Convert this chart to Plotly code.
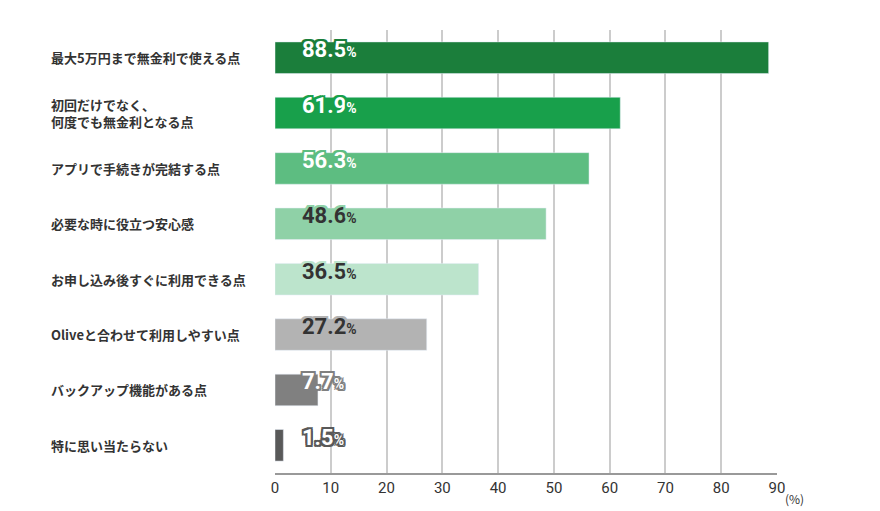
import plotly.graph_objects as go

categories = ["最大5万円まで無金利で使える点", "初回だけでなく、<br>何度でも無金利となる点", "アプリで手続きが完結する点",
              "必要な時に役立つ安心感", "お申し込み後すぐに利用できる点", "Oliveと合わせて利用しやすい点",
              "バックアップ機能がある点", "特に思い当たらない"]
values = [88.5, 61.9, 56.3, 48.6, 36.5, 27.2, 7.7, 1.5]
colors = ["#1b7e3b", "#18a04b", "#5dbd81", "#8fd1a7", "#bce4cc", "#b3b3b3", "#808080", "#595959"]
text_colors = ["white", "white", "white", "#333333", "#333333", "#333333", "white", "white"]
ticks = [0, 10, 20, 30, 40, 50, 60, 70, 80, 90]

fig = go.Figure(go.Bar(x=values, y=categories, orientation="h", marker_color=colors,
                       width=0.57, hoverinfo="skip"))

def outline(c):
    offs = [(-2, 0), (2, 0), (0, -2), (0, 2), (-2, -2), (2, 2), (-2, 2), (2, -2), (-1, 0), (1, 0), (0, 1), (0, -1)]
    return ", ".join(f"{a}px {b}px 0 {c}" for a, b in offs)

for cat, v, col, tc in zip(categories, values, colors, text_colors):
    fig.add_annotation(x=4.5, y=cat, xref="x", yref="y", xanchor="left", yanchor="middle", yshift=8,
                       showarrow=False,
                       text=f"{v:.1f}<span style='font-size:14px'>%</span>",
                       font=dict(size=22, color=tc, family="Roboto", weight="bold", shadow=outline(col)))
    fig.add_annotation(x=0, xref="paper", y=cat, yref="y", xanchor="left", yanchor="middle",
                       xshift=-226, align="left", showarrow=False, text=cat,
                       font=dict(size=13, color="#333333", weight="bold", family="Noto Sans CJK JP"))

fig.add_annotation(x=1, xref="paper", y=0, yref="paper", xanchor="left", yanchor="top", yshift=-15,
                   text="(%)", showarrow=False, font=dict(size=12, color="#333333", family="Noto Sans CJK JP"),
                   xshift=6)

fig.update_layout(
    width=872, height=503, margin=dict(l=267, r=103, t=22, b=38),
    paper_bgcolor="white", plot_bgcolor="white", showlegend=False, bargap=0.43,
    font=dict(family="Noto Sans CJK JP", color="#333333"),
    xaxis=dict(range=[0, 90], tickvals=ticks, showgrid=True, gridcolor="#cccccc", gridwidth=1.5,
               zeroline=False, showline=True, linecolor="#999999", linewidth=1.5,
               tickfont=dict(size=15, family="Roboto", color="#333333")),
    yaxis=dict(autorange="reversed", showticklabels=False, showline=False),
)
fig.write_html("out.html")
